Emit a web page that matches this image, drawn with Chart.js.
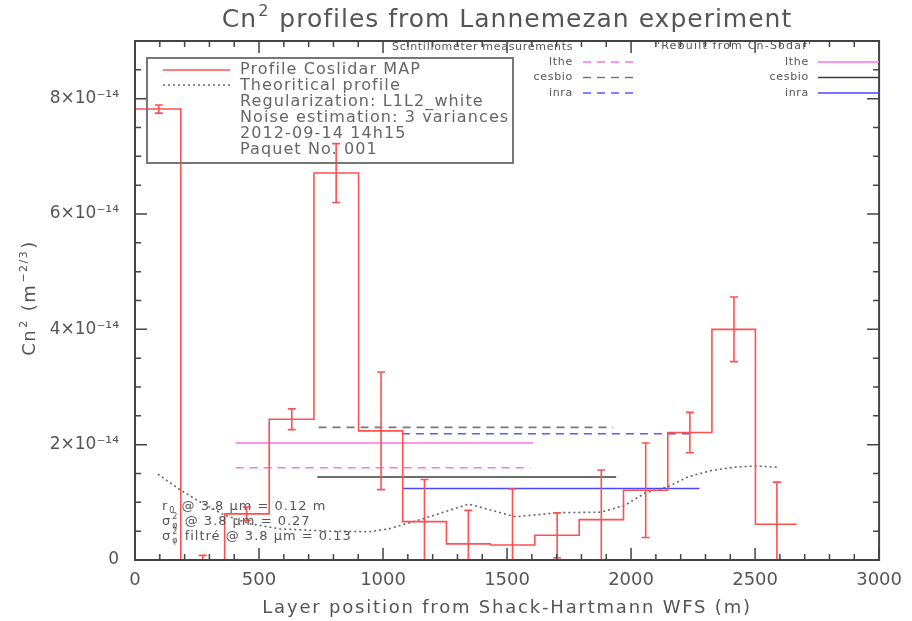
<!DOCTYPE html>
<html>
<head>
<meta charset="utf-8">
<script src="https://cdn.jsdelivr.net/npm/chart.js@4.4.0/dist/chart.umd.min.js"></script>
<style>
  body { margin: 0; background: #fff; }
</style>
</head>
<body>
<canvas id="cn2Chart" width="912" height="621"></canvas>
<script>
// Cn2 values in units of 1e-14 m^-2/3, altitudes in metres
const layerAlt = [96, 273, 450, 632, 811, 992, 1167, 1344, 1522, 1702, 1880, 2059, 2237, 2415, 2588];
const cn2Map   = [7.82, 0.0, 0.80, 2.44, 6.71, 2.24, 0.665, 0.28, 0.26, 0.43, 0.70, 1.21, 2.21, 4.00, 0.62];
const cn2Err   = [0.07, 0.08, 0.12, 0.18, 0.51, 1.02, 0.73, 0.58, 0.97, 0.39, 0.86, 0.82, 0.35, 0.56, 0.73];
const profileFrom = 0;
const profileTo = 2668;

const theoAlt = [92, 181, 261, 361, 462, 582, 783, 944, 1024, 1173, 1345, 1534, 1707, 1880, 1976, 2056, 2149, 2229, 2321, 2418, 2498, 2590];
const theoCn2 = [1.49, 1.22, 1.01, 0.78, 0.63, 0.54, 0.50, 0.49, 0.54, 0.73, 0.97, 0.75, 0.82, 0.83, 0.95, 1.16, 1.27, 1.44, 1.55, 1.61, 1.63, 1.61];

// scintillometer (dashed) and sodar rebuilt (solid) path averages
const sites = ['lthe', 'cesbio', 'inra'];
const scintColors = ['#ff70e6', '#777777', '#5a5aff'];
const sodarColors = ['#ff70e6', '#3c3c3c', '#4848ff'];
const scintCn2  = [1.60, 2.30, 2.19];
const scintFrom = [406, 740, 1076];
const scintTo   = [1593, 1928, 2256];
const sodarCn2  = [2.03, 1.44, 1.24];
const sodarFrom = [406, 735, 1076];
const sodarTo   = [1606, 1940, 2276];

const xTicks = [0, 500, 1000, 1500, 2000, 2500, 3000];
const yTicks = [0, 2, 4, 6, 8];

const FONT = '"DejaVu Sans", sans-serif';
const TEXT = '#555';
const RED = '#ff5050';

// text with super/subscripts: parts are [text, mode, extra]
function richText(ctx, parts, x, y, size, draw) {
  let cx = x;
  const small = Math.round(size * 0.62);
  parts.forEach(([t, mode, t2]) => {
    if (!mode) {
      ctx.font = size + 'px ' + FONT;
      if (draw) ctx.fillText(t, cx, y);
      cx += ctx.measureText(t).width;
    } else {
      ctx.font = small + 'px ' + FONT;
      if (mode === 'sup') {
        if (draw) ctx.fillText(t, cx + 1, y - size * 0.45);
        cx += ctx.measureText(t).width + 2;
      } else if (mode === 'sub') {
        if (draw) ctx.fillText(t, cx + 1, y + size * 0.2);
        cx += ctx.measureText(t).width + 2;
      } else {
        if (draw) {
          ctx.fillText(t, cx + 1, y - size * 0.45);
          ctx.fillText(t2, cx + 1, y + size * 0.25);
        }
        cx += Math.max(ctx.measureText(t).width, ctx.measureText(t2).width) + 2;
      }
    }
  });
  return cx - x;
}

const datasets = [];
datasets.push({
  label: 'Profile Coslidar MAP',
  data: [{x: profileFrom, y: cn2Map[0]}]
    .concat(layerAlt.map((a, i) => ({x: a, y: cn2Map[i]})))
    .concat([{x: profileTo, y: cn2Map[cn2Map.length - 1]}]),
  stepped: 'middle',
  borderColor: RED,
  borderWidth: 1.6
});
datasets.push({
  label: 'Theoritical profile',
  data: theoAlt.map((a, i) => ({x: a, y: theoCn2[i]})),
  borderColor: '#666',
  borderDash: [2, 3],
  borderWidth: 1.6
});
sites.forEach((s, i) => {
  datasets.push({
    label: 'scint ' + s,
    data: [{x: scintFrom[i], y: scintCn2[i]}, {x: scintTo[i], y: scintCn2[i]}],
    borderColor: scintColors[i],
    borderDash: [8, 6],
    borderWidth: 1.6
  });
  datasets.push({
    label: 'sodar ' + s,
    data: [{x: sodarFrom[i], y: sodarCn2[i]}, {x: sodarTo[i], y: sodarCn2[i]}],
    borderColor: sodarColors[i],
    borderWidth: 1.6
  });
});

const errorBars = {
  id: 'errorBars',
  afterDatasetsDraw(chart) {
    const {ctx, chartArea: a, scales: {x, y}} = chart;
    ctx.save();
    ctx.beginPath();
    ctx.rect(a.left, a.top, a.right - a.left, a.bottom - a.top);
    ctx.clip();
    ctx.strokeStyle = RED;
    ctx.lineWidth = 1.6;
    layerAlt.forEach((alt, i) => {
      const px = x.getPixelForValue(alt);
      const top = y.getPixelForValue(cn2Map[i] + cn2Err[i]);
      const bot = y.getPixelForValue(cn2Map[i] - cn2Err[i]);
      ctx.beginPath();
      ctx.moveTo(px, top); ctx.lineTo(px, bot);
      ctx.moveTo(px - 4, top); ctx.lineTo(px + 4, top);
      ctx.moveTo(px - 4, bot); ctx.lineTo(px + 4, bot);
      ctx.stroke();
    });
    ctx.restore();
  }
};

const decorations = {
  id: 'decorations',
  afterDraw(chart) {
    const {ctx, chartArea: a, scales: {x, y}} = chart;
    ctx.save();

    // box with inward ticks on all four sides
    ctx.strokeStyle = '#444';
    ctx.lineWidth = 2;
    ctx.strokeRect(a.left, a.top, a.right - a.left, a.bottom - a.top);
    ctx.lineWidth = 1.5;
    ctx.beginPath();
    for (let v = 0; v <= 3000; v += 100) {
      const px = x.getPixelForValue(v);
      const len = v % 500 === 0 ? 12 : 6;
      ctx.moveTo(px, a.bottom); ctx.lineTo(px, a.bottom - len);
      ctx.moveTo(px, a.top); ctx.lineTo(px, a.top + len);
    }
    for (let v = 0; v <= 9; v += 0.5) {
      const py = y.getPixelForValue(v);
      const len = v % 2 === 0 ? 12 : 6;
      ctx.moveTo(a.left, py); ctx.lineTo(a.left + len, py);
      ctx.moveTo(a.right, py); ctx.lineTo(a.right - len, py);
    }
    ctx.stroke();

    ctx.fillStyle = TEXT;
    ctx.textBaseline = 'alphabetic';

    // title
    ctx.letterSpacing = '1px';
    const tParts = [['Cn'], ['2', 'sup'], [' profiles from Lannemezan experiment']];
    const tw = richText(ctx, tParts, 0, 0, 25, false);
    richText(ctx, tParts, (a.left + a.right) / 2 - tw / 2, 27, 25, true);

    // axis titles
    ctx.letterSpacing = '1.8px';
    ctx.font = '18px ' + FONT;
    ctx.textAlign = 'center';
    ctx.fillText('Layer position from Shack-Hartmann WFS (m)', (a.left + a.right) / 2, 613);
    ctx.textAlign = 'left';

    ctx.save();
    ctx.translate(35, 298);
    ctx.rotate(-Math.PI / 2);
    ctx.letterSpacing = '1.5px';
    const yParts = [['Cn'], ['2', 'sup'], [' (m'], ['\u22122/3', 'sup'], [')']];
    const yw = richText(ctx, yParts, 0, 0, 18, false);
    richText(ctx, yParts, -yw / 2, 0, 18, true);
    ctx.restore();

    // main legend box
    ctx.letterSpacing = '0px';
    ctx.strokeStyle = '#777';
    ctx.lineWidth = 2;
    ctx.strokeRect(147, 58, 366, 105);
    ctx.lineWidth = 1.6;
    ctx.strokeStyle = RED;
    ctx.beginPath(); ctx.moveTo(163, 70); ctx.lineTo(230, 70); ctx.stroke();
    ctx.strokeStyle = '#666';
    ctx.setLineDash([2, 3]);
    ctx.beginPath(); ctx.moveTo(163, 85); ctx.lineTo(230, 85); ctx.stroke();
    ctx.setLineDash([]);
    ctx.letterSpacing = '1.1px';
    ctx.font = '16px ' + FONT;
    ctx.fillStyle = '#666';
    ctx.textBaseline = 'middle';
    ['Profile Coslidar MAP', 'Theoritical profile', 'Regularization: L1L2_white',
     'Noise estimation: 3 variances', '2012-09-14 14h15', 'Paquet No. 001']
      .forEach((t, i) => ctx.fillText(t, 240, 70 + i * 15.9));

    // station legends along the top
    ctx.letterSpacing = '0.7px';
    ctx.font = '11px ' + FONT;
    ctx.fillStyle = TEXT;
    ctx.textAlign = 'left';
    ctx.fillText('Scintillometer measurements', 392, 47);
    ctx.letterSpacing = '1.2px';
    ctx.fillText('\'Rebuilt from Cn-Sodar\'', 657, 46);
    ctx.letterSpacing = '0.7px';
    ctx.textAlign = 'right';
    ctx.lineWidth = 1.6;
    sites.forEach((s, i) => {
      const ly = 62 + i * 15.5;
      ctx.fillStyle = TEXT;
      ctx.fillText(s, 573, ly);
      ctx.fillText(s, 809, ly);
      ctx.strokeStyle = scintColors[i];
      ctx.setLineDash([8, 6]);
      ctx.beginPath(); ctx.moveTo(583, ly); ctx.lineTo(637, ly); ctx.stroke();
      ctx.setLineDash([]);
      ctx.strokeStyle = sodarColors[i];
      ctx.beginPath(); ctx.moveTo(818, ly); ctx.lineTo(879, ly); ctx.stroke();
    });

    // seeing notes in the lower left corner
    ctx.letterSpacing = '1px';
    ctx.textAlign = 'left';
    ctx.textBaseline = 'alphabetic';
    ctx.fillStyle = TEXT;
    richText(ctx, [['r'], ['0', 'sub'], [' @ 3.8 \u03bcm = 0.12 m']], 162, 510, 13, true);
    richText(ctx, [['\u03c3'], ['2', 'both', '\u03c6'], [' @ 3.8 \u03bcm = 0.27']], 162, 525, 13, true);
    richText(ctx, [['\u03c3'], ['2', 'both', '\u03c6'], [' filtr\u00e9 @ 3.8 \u03bcm = 0.13']], 162, 540, 13, true);

    ctx.restore();
  }
};

new Chart(document.getElementById('cn2Chart'), {
  type: 'line',
  data: { datasets },
  options: {
    responsive: false,
    animation: false,
    layout: { padding: { top: 41, right: 30, left: 0, bottom: 0 } },
    elements: { point: { radius: 0 } },
    plugins: {
      legend: { display: false },
      tooltip: { enabled: false }
    },
    scales: {
      x: {
        type: 'linear',
        min: 0,
        max: 3000,
        afterBuildTicks: s => { s.ticks = xTicks.map(v => ({value: v})); },
        afterFit: s => { s.height = 61; },
        grid: { display: false, drawTicks: false },
        border: { display: false },
        ticks: {
          padding: 10,
          color: TEXT,
          font: { family: FONT, size: 18 },
          maxRotation: 0,
          autoSkip: false,
          callback: v => String(v)
        }
      },
      y: {
        type: 'linear',
        min: 0,
        max: 9,
        afterBuildTicks: s => { s.ticks = yTicks.map(v => ({value: v})); },
        afterFit: s => { s.width = 135; },
        grid: { display: false, drawTicks: false },
        border: { display: false },
        ticks: {
          padding: 16,
          color: TEXT,
          font: { family: FONT, size: 17 },
          callback: v => v === 0 ? '0' : v + '\u00d710\u207b\u00b9\u2074'
        }
      }
    }
  },
  plugins: [errorBars, decorations]
});
</script>
</body>
</html>
